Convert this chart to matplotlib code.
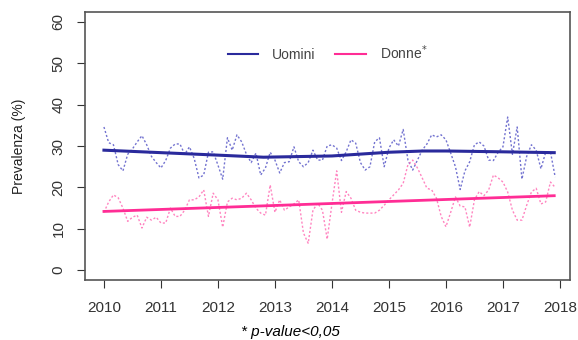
import numpy as np
import matplotlib.pyplot as plt

plt.rcParams['font.family'] = ['Liberation Sans', 'DejaVu Sans']

years = np.arange(2010, 2018)
# monthly prevalence (%), Jan..Dec for each year
uomini = [
    34.6, 30.8, 30.3, 25.5, 24.0, 28.0, 29.3, 31.0, 32.5, 30.3, 27.5, 26.0,  # 2010
    24.7, 26.5, 29.5, 30.5, 30.5, 28.0, 29.8, 27.0, 22.3, 23.0, 28.5, 28.6,  # 2011
    25.4, 22.0, 32.0, 29.0, 32.7, 31.0, 28.0, 26.0, 28.3, 23.0, 24.7, 28.5,  # 2012
    26.6, 23.5, 26.0, 26.2, 29.8, 26.2, 25.0, 26.0, 29.0, 26.6, 26.6, 30.0,  # 2013
    30.3, 29.5, 26.5, 28.6, 31.5, 30.7, 26.0, 24.2, 25.0, 31.0, 32.0, 25.0,  # 2014
    29.5, 31.5, 30.0, 34.0, 26.6, 24.2, 26.6, 29.0, 30.5, 32.7, 32.2, 32.7,  # 2015
    31.5, 28.3, 25.0, 19.5, 24.0, 26.2, 30.3, 31.0, 30.0, 26.6, 26.5, 28.5,  # 2016
    29.8, 37.0, 28.0, 34.6, 22.0, 27.5, 30.3, 29.0, 24.5, 28.5, 28.6, 22.5,  # 2017
]
donne = [
    14.0, 16.5, 18.2, 17.5, 15.0, 11.8, 12.8, 13.3, 10.2, 12.8, 12.1, 12.8,  # 2010
    11.4, 11.4, 15.0, 13.0, 13.0, 14.5, 17.0, 17.0, 17.7, 19.4, 13.0, 18.6,  # 2011
    17.0, 10.4, 16.5, 17.4, 17.0, 17.4, 18.6, 17.0, 15.0, 13.8, 13.3, 20.6,  # 2012
    14.0, 17.0, 14.5, 15.3, 16.0, 17.0, 9.0, 6.5, 14.5, 16.2, 14.5, 7.5,     # 2013
    16.0, 24.0, 14.0, 19.0, 17.4, 14.5, 14.0, 13.8, 13.8, 13.8, 14.5, 15.7,  # 2014
    17.0, 18.2, 19.4, 21.0, 25.5, 26.6, 24.7, 22.3, 19.8, 19.4, 17.4, 13.0,  # 2015
    10.5, 14.0, 17.7, 15.5, 15.3, 10.4, 17.0, 19.0, 18.0, 19.4, 23.0, 22.3,  # 2016
    21.3, 18.9, 14.5, 12.1, 12.1, 15.7, 18.9, 19.8, 16.0, 16.5, 21.3, 20.0,  # 2017
]
# smoothed trends
trend_x = [2010, 2011, 2012, 2012.8, 2014, 2015, 2015.6, 2016, 2017, 2017.9]
trend_uomini = [29.0, 28.4, 27.8, 27.3, 27.6, 28.5, 28.8, 28.8, 28.6, 28.4]
trend_donne_x = [2010, 2017.9]
trend_donne = [14.2, 18.0]

x = 2010 + np.arange(len(uomini)) / 12

fig = plt.figure(figsize=(5.78, 3.40), dpi=100)
ax = fig.add_axes([0.147, 0.176, 0.839, 0.789])

ax.plot(x, uomini, color='#5a5ac8', lw=1.0, ls=(0, (1.5, 1.5)), alpha=0.85)
ax.plot(x, donne, color='#ff6fb5', lw=1.0, ls=(0, (1.5, 1.5)), alpha=0.85)
ax.plot(trend_x, trend_uomini, color='#2a2a9c', lw=2.2, label='Uomini')
ax.plot(trend_donne_x, trend_donne, color='#ff2d95', lw=2.0, label='Donne$^{*}$')

ax.set_xlim(2009.667, 2018.175)
ax.set_ylim(-2.4, 62.4)
ax.set_xticks(np.arange(2010, 2019))
ax.set_yticks(np.arange(0, 61, 10))
ax.tick_params(axis='x', labelsize=11, colors='#333333', length=6, pad=9)
ax.tick_params(axis='y', labelsize=11, colors='#333333', length=6, pad=8)
for lab in ax.get_yticklabels():
    lab.set_rotation(90)
    lab.set_va('center')
for s in ax.spines.values():
    s.set_color('#555555')
    s.set_linewidth(1.2)

ax.set_ylabel('Prevalenza (%)', fontsize=10, color='#222222')
ax.yaxis.set_label_coords(-0.122, 0.5)
ax.set_xlabel('* p-value<0,05', fontsize=11, style='italic')
ax.xaxis.set_label_coords(0.423, -0.168)

leg = ax.legend(loc='upper center', bbox_to_anchor=(0.5, 0.93), ncol=2, frameon=False,
                fontsize=10, handlelength=2.2, columnspacing=1.4, handletextpad=1.0)
for t in leg.get_texts():
    t.set_color('#444444')
for h in leg.get_lines():
    h.set_linewidth(1.5)

fig.savefig('out.png', dpi=100)
